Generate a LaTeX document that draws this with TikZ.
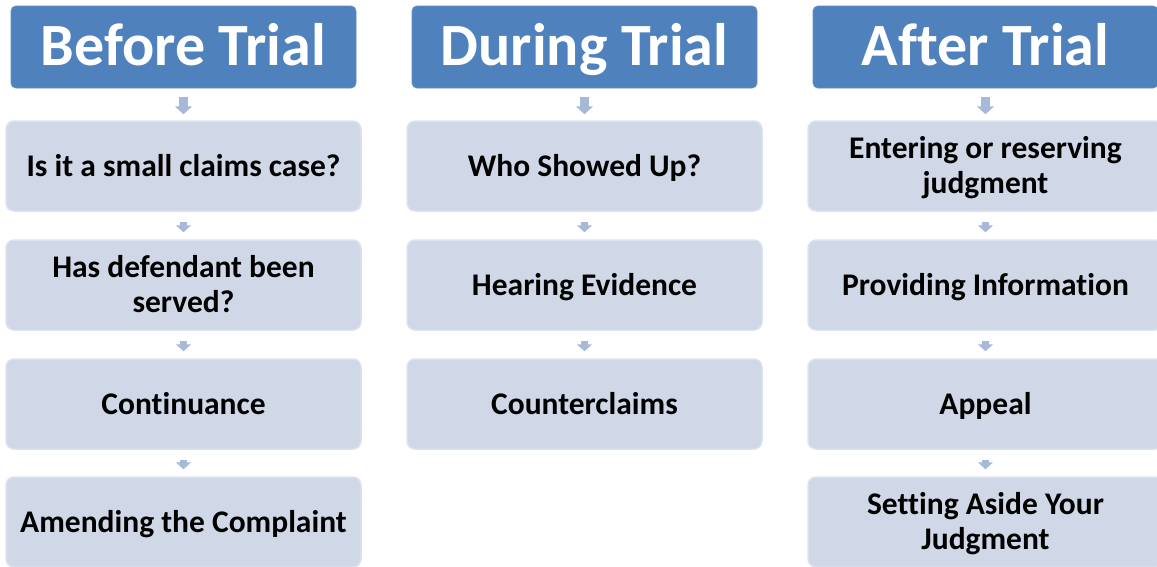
\documentclass[tikz,border=0pt]{standalone}
\usepackage{fontspec}
\setmainfont{Carlito}[Ligatures={NoCommon}]
\usetikzlibrary{arrows.meta}
\definecolor{hdrblue}{HTML}{4F81BD}
\definecolor{boxfill}{HTML}{D0D8E8}
\definecolor{boxline}{HTML}{DCE2EE}
\definecolor{arrowblue}{HTML}{A7B9D9}
\tikzset{
  hdr/.style={rectangle, rounded corners=5pt, fill=hdrblue, draw=hdrblue!90!white, line width=0.8pt,
    minimum width=345pt, minimum height=82pt, inner sep=0pt, text=white,
    text height=46pt, text depth=10pt,
    font=\fontsize{60}{62}\selectfont\bfseries},
  item/.style={rectangle, rounded corners=8pt, fill=boxfill, draw=boxline, line width=1.5pt,
    minimum width=355pt, minimum height=90pt, inner sep=0pt, text=black, align=center,
    text height=24pt, text depth=4pt,
    font=\fontsize{31.5}{35}\selectfont\bfseries},
  itemtwo/.style={item, text height=59pt},
  arr/.style={draw=arrowblue, line width=7.5pt, -{Triangle[width=15pt,length=7pt]},
    shorten <=10pt, shorten >=7pt},
  arrtop/.style={draw=arrowblue, line width=9pt, -{Triangle[width=17pt,length=8pt]},
    shorten <=9pt, shorten >=6pt}
}
\begin{document}
\begin{tikzpicture}[x=1pt,y=-1pt]
\useasboundingbox (0,0) rectangle (1157,566);
% headers
\node[hdr] (h1) at (183.5,47) {Before Trial};
\node[hdr] (h2) at (584.5,47) {During Trial};
\node[hdr] (h3) at (985.5,47) {After Trial};
% column 1
\node[item] (a1) at (183.5,166) {Is it a small claims case?};
\node[itemtwo] (a2) at (183.5,285) {Has defendant been\\served?};
\node[item] (a3) at (183.5,404) {Continuance};
\node[item] (a4) at (183.5,522) {Amending the Complaint};
% column 2
\node[item] (b1) at (584.5,166) {Who Showed Up?};
\node[item] (b2) at (584.5,285) {Hearing Evidence};
\node[item] (b3) at (584.5,404) {Counterclaims};
% column 3
\node[itemtwo] (c1) at (985.5,166) {Entering or reserving\\judgment};
\node[item] (c2) at (985.5,285) {Providing Information};
\node[item] (c3) at (985.5,404) {Appeal};
\node[itemtwo] (c4) at (985.5,522) {Setting Aside Your\\Judgment};
% connectors
\draw[arrtop] (h1) -- (a1);
\draw[arr] (a1) -- (a2);
\draw[arr] (a2) -- (a3);
\draw[arr] (a3) -- (a4);
\draw[arrtop] (h2) -- (b1);
\draw[arr] (b1) -- (b2);
\draw[arr] (b2) -- (b3);
\draw[arrtop] (h3) -- (c1);
\draw[arr] (c1) -- (c2);
\draw[arr] (c2) -- (c3);
\draw[arr] (c3) -- (c4);
\end{tikzpicture}
\end{document}
